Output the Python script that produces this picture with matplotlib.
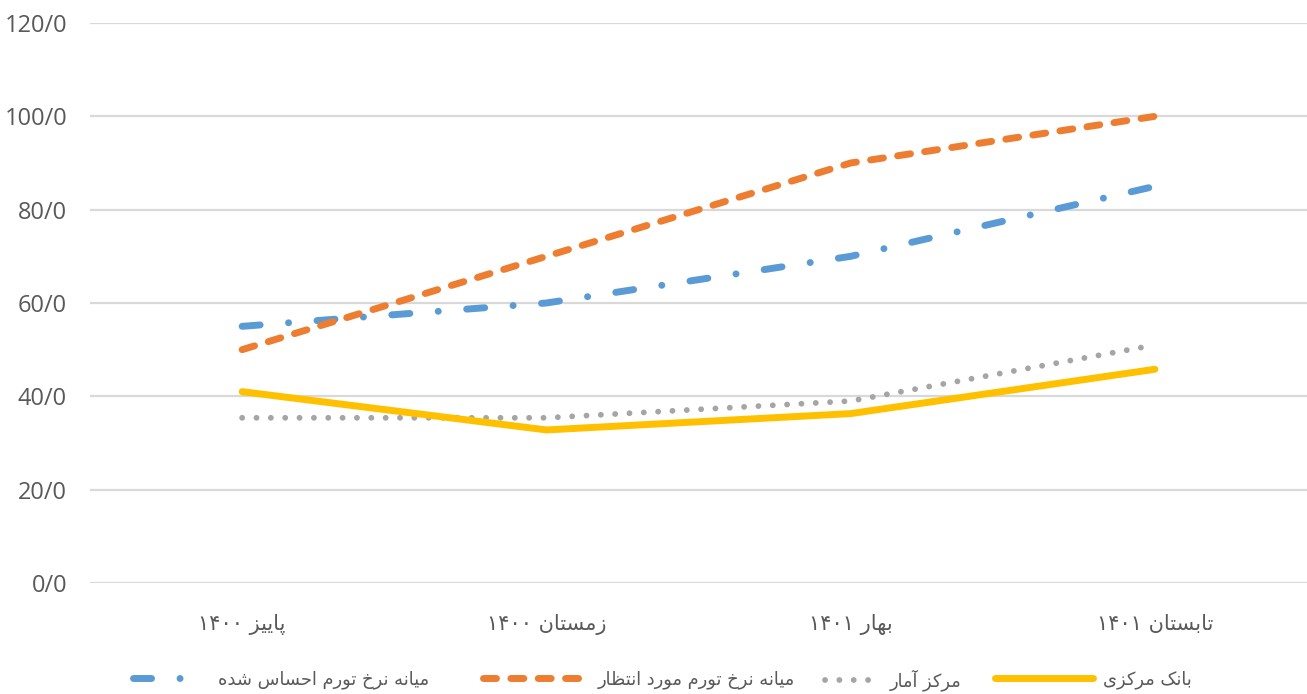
import matplotlib
matplotlib.use("Agg")
import matplotlib.pyplot as plt

# ---------------- data ----------------
categories = ["پاییز ۱۴۰۰", "زمستان ۱۴۰۰", "بهار ۱۴۰۱", "تابستان ۱۴۰۱"]
perceived = [55.0, 60.0, 70.0, 85.0]      # میانه نرخ تورم احساس شده
expected = [50.0, 70.0, 90.0, 100.0]      # میانه نرخ تورم مورد انتظار
sci = [35.4, 35.4, 39.0, 51.0]            # مرکز آمار
cbi = [41.0, 32.8, 36.3, 45.8]            # بانک مرکزی
series_names = ["میانه نرخ تورم احساس شده", "میانه نرخ تورم مورد انتظار",
                "مرکز آمار", "بانک مرکزی"]
yticks = [0, 20, 40, 60, 80, 100, 120]
ytick_labels = ["0/0", "20/0", "40/0", "60/0", "80/0", "100/0", "120/0"]

# ---------------- minimal Persian shaping for display ----------------
FORMS = {  # iso, fin, ini, med
    "ا": ("\uFE8D", "\uFE8E", None, None),
    "آ": ("\uFE81", "\uFE82", None, None),
    "ب": ("\uFE8F", "\uFE90", "\uFE91", "\uFE92"),
    "پ": ("\uFB56", "\uFB57", "\uFB58", "\uFB59"),
    "ت": ("\uFE95", "\uFE96", "\uFE97", "\uFE98"),
    "ح": ("\uFEA1", "\uFEA2", "\uFEA3", "\uFEA4"),
    "خ": ("\uFEA5", "\uFEA6", "\uFEA7", "\uFEA8"),
    "د": ("\uFEA9", "\uFEAA", None, None),
    "ر": ("\uFEAD", "\uFEAE", None, None),
    "ز": ("\uFEAF", "\uFEB0", None, None),
    "س": ("\uFEB1", "\uFEB2", "\uFEB3", "\uFEB4"),
    "ش": ("\uFEB5", "\uFEB6", "\uFEB7", "\uFEB8"),
    "ظ": ("\uFEC5", "\uFEC6", "\uFEC7", "\uFEC8"),
    "ک": ("\uFB8E", "\uFB8F", "\uFB90", "\uFB91"),
    "م": ("\uFEE1", "\uFEE2", "\uFEE3", "\uFEE4"),
    "ن": ("\uFEE5", "\uFEE6", "\uFEE7", "\uFEE8"),
    "ه": ("\uFEE9", "\uFEEA", "\uFEEB", "\uFEEC"),
    "و": ("\uFEED", "\uFEEE", None, None),
    "ی": ("\uFBFC", "\uFBFD", "\uFBFE", "\uFBFF"),
}


def _dual(c):
    return c in FORMS and FORMS[c][2] is not None


def shape_fa(text):
    out = []
    for i, c in enumerate(text):
        if c not in FORMS:
            out.append(c)
            continue
        prev = text[i - 1] if i > 0 else ""
        nxt = text[i + 1] if i + 1 < len(text) else ""
        jp = _dual(prev)
        jn = _dual(c) and nxt in FORMS
        iso, fin, ini, med = FORMS[c]
        if jp and jn:
            out.append(med)
        elif jp:
            out.append(fin)
        elif jn:
            out.append(ini)
        else:
            out.append(iso)
    vis = "".join(out)[::-1]
    res, run = [], []
    for ch in vis:
        if "\u06F0" <= ch <= "\u06F9" or ch.isdigit():
            run.append(ch)
        else:
            if run:
                res.extend(run[::-1]); run = []
            res.append(ch)
    if run:
        res.extend(run[::-1])
    return "".join(res)


# ---------------- figure ----------------
W, H = 1307, 694
fig = plt.figure(figsize=(W / 100, H / 100), dpi=100)
ax = fig.add_axes([90 / W, (H - 583) / H, (W - 90) / W, (583 - 23) / H])

x = list(range(len(categories)))
blue, orange, gray, yellow = "#5B9BD5", "#ED7D31", "#A5A5A5", "#FFC000"

l1, = ax.plot(x, perceived, color=blue, lw=5, linestyle=(0, (2.6, 4.1, 0.01, 4.1)),
              dash_capstyle="round", zorder=3)
l2, = ax.plot(x, expected, color=orange, lw=5, linestyle=(0, (1.87, 2.07)),
              dash_capstyle="round", zorder=3)
l3, = ax.plot(x, sci, color=gray, lw=4.2, linestyle=(0, (0.01, 2.45)),
              dash_capstyle="round", zorder=3)
l4, = ax.plot(x, cbi, color=yellow, lw=5, solid_capstyle="round",
              solid_joinstyle="round", zorder=3)

ax.set_xlim(-0.5, len(categories) - 0.5)
ax.set_ylim(0, 120)
ax.set_yticks(yticks)
ax.set_yticklabels(ytick_labels, fontfamily="Open Sans", fontsize=17, color="#595959")
ax.set_xticks(x)
ax.set_xticklabels([shape_fa(c) for c in categories], fontfamily="DejaVu Sans",
                   fontsize=15, color="#595959")
ax.tick_params(axis="both", length=0)
ax.tick_params(axis="y", pad=16.5)
ax.tick_params(axis="x", pad=22)
ax.grid(axis="y", color="#D9D9D9", lw=1.6)
ax.set_axisbelow(True)
for s in ax.spines.values():
    s.set_visible(False)

# legend: one entry per legend box so each handle can have its own length
leg_fs = 12.9
leg_specs = [  # (handle, label, handle start px, handle length px, gap px)
    (l1, series_names[0], 133, 68, 17),
    (l2, series_names[1], 483, 105, 10),
    (l3, series_names[2], 825, 56, 9),
    (l4, series_names[3], 995, 98, 10),
]
fs_px = leg_fs * 100 / 72
for h, lab, x0, hl, gap in leg_specs:
    lg = fig.legend([h], [shape_fa(lab)], loc="center left",
                    bbox_to_anchor=(x0 / W, 1 - 680 / H), frameon=False,
                    borderpad=0, borderaxespad=0, handlelength=hl / fs_px,
                    handletextpad=gap / fs_px,
                    prop={"family": "DejaVu Sans", "size": leg_fs})
    for t in lg.get_texts():
        t.set_color("#595959")

fig.savefig("out.png", dpi=100)
